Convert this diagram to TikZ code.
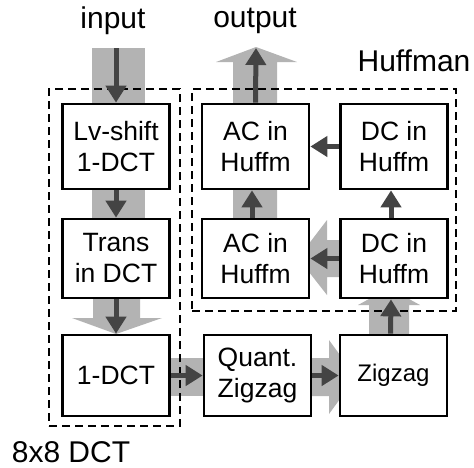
\documentclass[tikz,border=0pt]{standalone}
\usepackage{fontspec}
\setmainfont{Liberation Sans}
\usetikzlibrary{arrows.meta}
\definecolor{band}{HTML}{B3B3B3}
\definecolor{dark}{HTML}{444444}
\begin{document}
\begin{tikzpicture}[x=0.5pt,y=-0.5pt,
 blk/.style={draw=black,line width=1.35pt,fill=white,minimum width=53.5pt,align=center,inner sep=0pt,font=\fontsize{13.25}{15.5}\selectfont},
 rowA/.style={minimum height=42.5pt},
 rowB/.style={minimum height=39.5pt},
 rowC/.style={minimum height=40.5pt},
 frame/.style={draw=black,line width=1.3pt,dash pattern=on 4pt off 2.5pt,inner sep=0pt},
 lbl/.style={font=\fontsize{15}{18}\selectfont,inner sep=0pt},
 flow/.style={draw=dark,line width=2.5pt,-{Triangle[length=8.5pt,width=10pt]}},
 bandfill/.style={fill=band,draw=none}]
\useasboundingbox (0,0) rectangle (474,467);
% wide grey data path
\fill[bandfill] (92,48) rectangle (145,260);
\fill[bandfill] (93,250) -- (140,250) -- (140,318) -- (162,318) -- (116,334) -- (72,318) -- (93,318) -- cycle;
\fill[bandfill] (120,358) rectangle (210,396);
\fill[bandfill] (290,358) -- (329,358) -- (329,340) -- (356,377) -- (329,414) -- (329,396) -- (290,396) -- cycle;
\fill[bandfill] (369,360) -- (369,305) -- (358,305) -- (389,288) -- (420,305) -- (409,305) -- (409,360) -- cycle;
\fill[bandfill] (360,240) -- (327,240) -- (327,220) -- (298,258) -- (327,295) -- (327,277) -- (360,277) -- cycle;
\fill[bandfill] (233,270) -- (233,62) -- (216,62) -- (256,47) -- (297,62) -- (277,62) -- (277,270) -- cycle;
% dashed groups
\node[frame,minimum width=65.5pt,minimum height=168.5pt] (f1) at (114.5,257.5) {};
\node[frame,minimum width=132pt,minimum height=111pt] (f2) at (324,200) {};
% blocks
\node[blk,rowA] (b1) at (116,146.5) {Lv-shift\\1-DCT};
\node[blk,rowB] (b2) at (116,258.5) {Trans\\in DCT};
\node[blk,rowC] (b3) at (116,375.5) {1-DCT};
\node[blk,rowC] (b4) at (257.5,375.5) {Quant.\\Zigzag};
\node[blk,rowC,font=\fontsize{12}{14}\selectfont] (b5) at (393.5,375.5) {Zigzag};
\node[blk,rowA] (h1) at (255.5,146.5) {AC in\\Huffm};
\node[blk,rowA] (h2) at (394,146.5) {DC in\\Huffm};
\node[blk,rowB] (h3) at (255.5,258.5) {AC in\\Huffm};
\node[blk,rowB] (h4) at (394,258.5) {DC in\\Huffm};
% labels
\node[lbl] (tin) at (113,21) {input};
\node[lbl] (tout) at (255,21) {output};
\node[lbl] (thuf) at (414,61) {Huffman};
\node[lbl] (tdct) at (71,452) {8x8 DCT};
% dark arrows
\coordinate (src) at (116,48);
\coordinate (dst) at (256,48);
\draw[flow] (src) -- (b1.north);
\draw[flow] (b1) -- (b2);
\draw[flow] (b2) -- (b3);
\draw[flow] (b3) -- (b4);
\draw[flow] (b4) -- (b5);
\draw[flow] ([xshift=-1.5pt]b5.north) -- ([xshift=-1.5pt]h4.south);
\draw[flow] (h4) -- (h3);
\draw[flow] ([xshift=-1.75pt]h3.north) -- ([xshift=-1.75pt]h1.south);
\draw[flow] ([xshift=-1.5pt]h4.north) -- ([xshift=-1.5pt]h2.south);
\draw[flow] (h2) -- (h1);
\draw[flow] (h1.north) -- (dst);
\end{tikzpicture}
\end{document}
